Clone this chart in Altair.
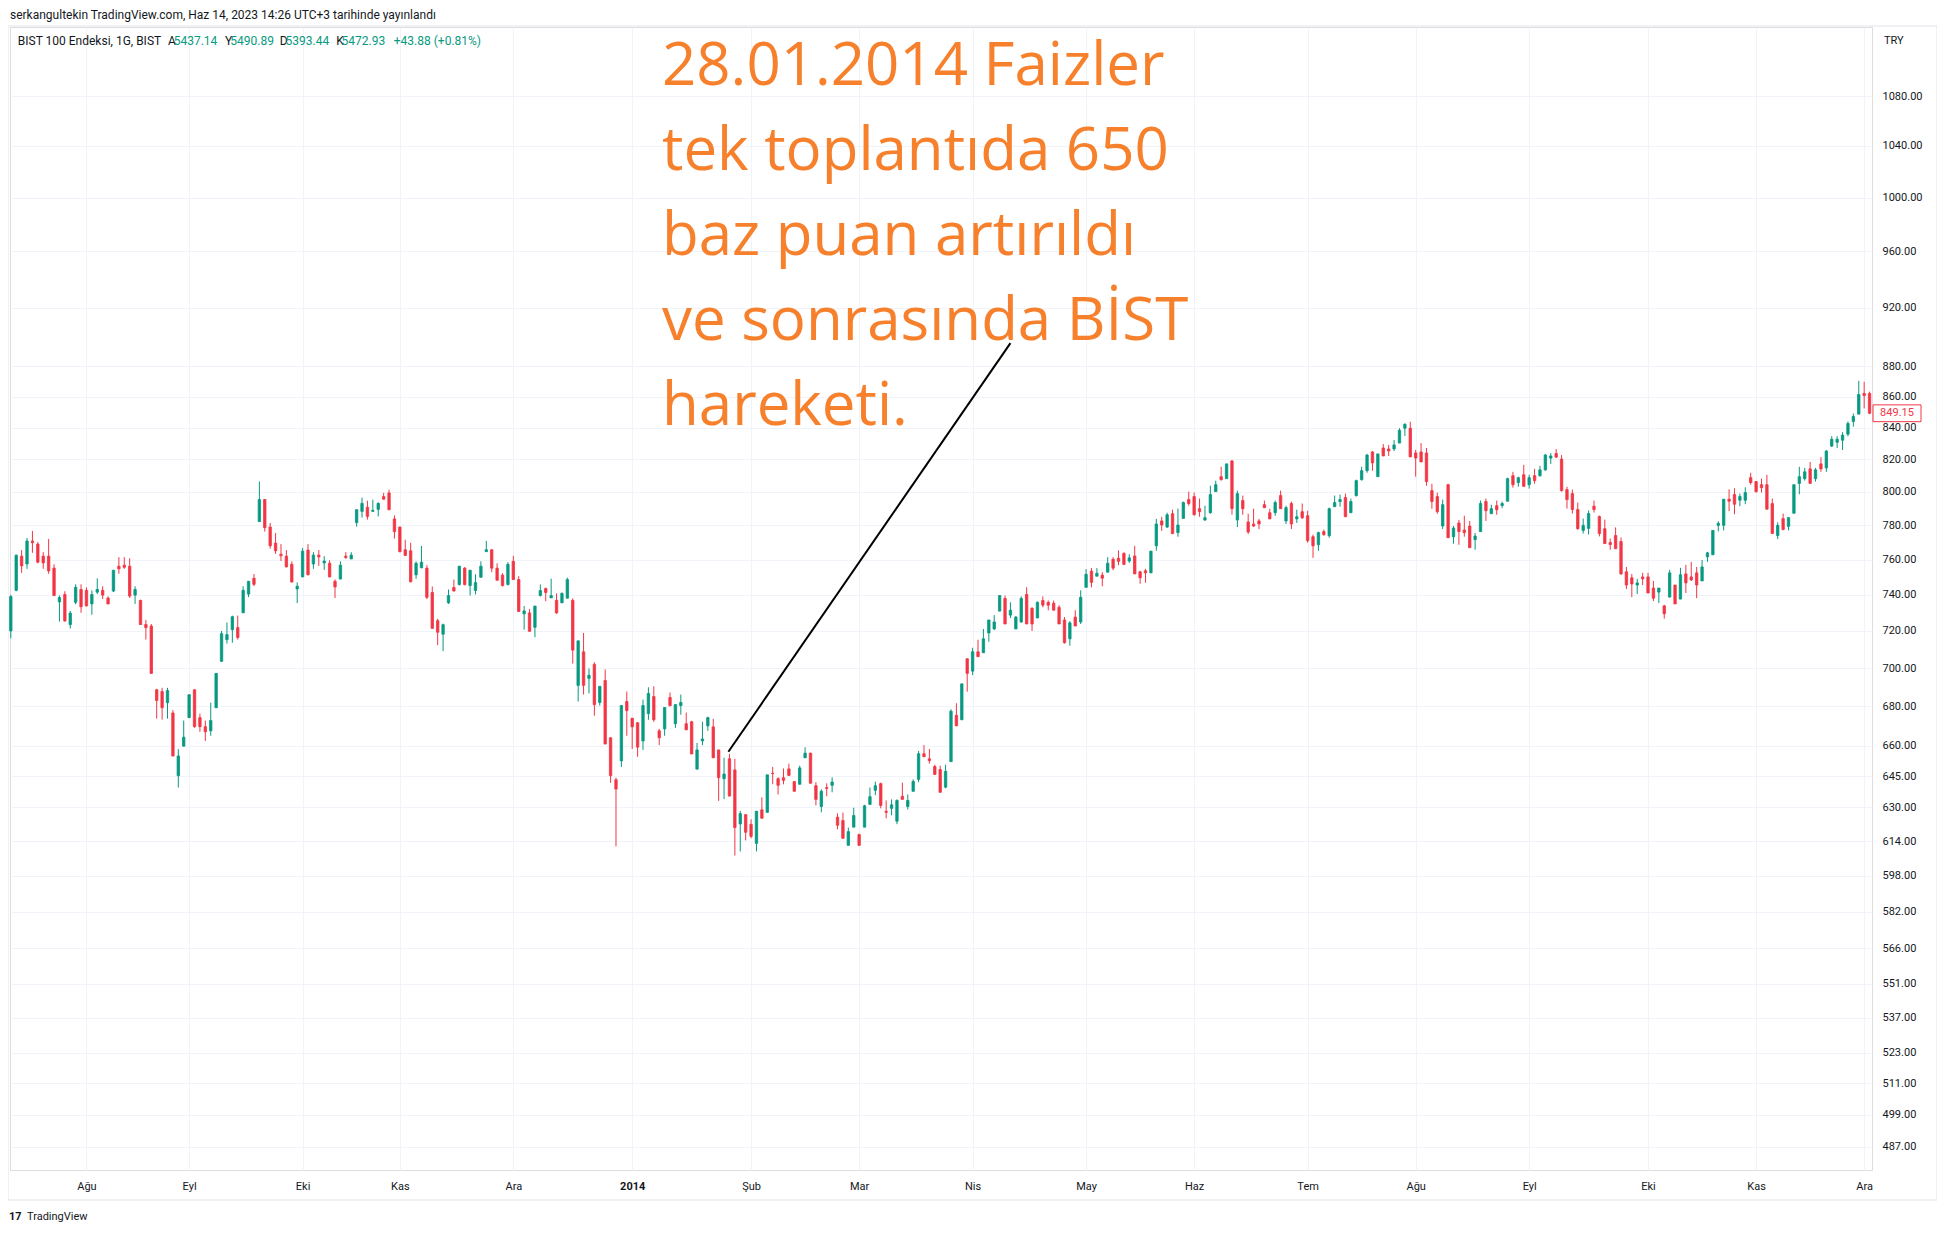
import altair as alt
import pandas as pd

# ---- candle data (daily, BIST 100 / 100, Jul 2013 - Dec 2014) ----
opens = [720,742.5,762,757.5,770.8,769,762,762,755.1,736,740.2,723.5,735.8,743,742.5,734.9,741.5,742.5,738.2,742.1,
         756.2,756.8,756.2,739.8,736.9,723.5,722.7,688.6,687.7,681.9,676.6,645.2,659.8,674.2,688.6,674.2,669.6,667.5,679.3,703.6,
         715.3,720.7,721.8,730,740.4,749.3,782.2,795.4,779,769.6,763.1,762,757.3,743.3,750.1,765.5,757.5,762.6,758.1,757.9,
         747.6,748.9,762,760.4,781.6,788.3,790.7,788.3,789.5,797.2,799.4,783.8,779,765.7,765.1,751.3,755.3,755.1,741.3,725.6,
         718.2,735.5,744.1,745.8,755.1,745.2,742.4,749.9,764.6,765.7,755.1,751.1,745.8,759,748.6,729.4,729.9,722,739.6,743.5,
         738.3,736.9,735.5,738.1,736.9,690.9,708.7,694.6,702,682,693.5,664,643.2,652.5,682.5,673.9,671.6,662.4,676.3,685.1,
         667.5,668.5,684.6,671.1,680.4,671.1,672.1,648.4,662.4,670,669.5,657.9,643.7,653.5,648,622,626.4,621.8,612.9,628.7,
         627.5,646.4,643.7,644.2,648.5,642.3,641,654,656.3,640.3,630.3,639.4,640.5,625.2,623.6,612,620.5,617,620.5,631.3,
         638.1,641.3,628,629.4,623.3,635.2,630.3,637.6,643.4,656,653.5,649.7,648.2,639.6,652.1,675.4,673.1,705,698.4,708.7,
         708.2,718.9,721.1,730.9,738,728.7,721.1,724.9,740.2,732.5,727.1,736.8,735.8,735.3,733,726,715.7,727.6,724.9,744.2,
         753.4,750.5,751.1,752.8,760.2,760.8,763.6,759.2,762.1,753,753.6,752.4,768,782.6,779,786.9,775.7,784.1,795.4,797.2,
         789.9,783.2,787.5,800.2,809.3,808.1,819,783.2,794.8,782,780.8,782.6,792.3,787.5,787.5,797.8,782.6,793,783.8,788.1,
         785.7,773.3,768.6,776.3,773.9,791.1,794.2,796.6,787.5,797.8,807.5,813,824.6,809.3,827.1,826.5,826.5,830.2,839.6,839.6,
         824,824.6,824,800.8,797.2,779.6,804.4,773.3,781.4,777.2,779.6,771.6,776.3,794.2,786.9,791.7,791.8,794.4,809.9,805.7,
         810.5,804.4,809.9,809.9,813.5,820.8,823.7,820.2,801.4,799,789.4,777,778.2,791.4,785.2,778,769.9,774,770.5,753,
         749.6,745.5,750.1,750.1,743.8,741.5,733.8,738.7,745.5,737.6,751.8,750.1,752.4,747.8,761.6,762.8,780,780,795.6,798.4,
         795,795,808.7,806.3,804.4,804.4,793,774,784,779.4,787.2,805.2,808.1,814.1,808.1,817.2,814.7,828.3,830.7,832,
         835.8,843.9,848.6,862,862]
highs = [740,763,765.5,772.6,776.7,770.2,764.3,772,757.3,739.6,742,731,745.9,745.9,744.2,742.5,749.3,744.8,739.1,754,
         761.4,761.4,760.8,744.8,737.2,726,723.8,689.1,689.6,689.6,678.1,658.3,672.7,686.2,688.8,676.3,672.7,681.9,697.4,720,
         724.6,728.4,728.4,744.8,747.8,751.7,806.4,795.6,781.4,775.5,769,765.5,759,747,766.7,769,764.3,765.5,762,759.6,
         748.7,759,764.3,764.3,789.5,796.6,794.7,795.3,793.7,799.4,801.4,785.9,779.2,771.5,769.8,759,767.9,756.8,744.7,726.7,
         724,743,748.6,756.4,755.7,754.1,751.6,759,770.9,765.9,757.9,752.2,758.5,762.2,750.5,733.7,732.1,733.8,745.8,744.1,
         749.1,740.8,741.3,749.7,738,714.8,718.9,699.8,703.1,690.6,699.3,664.2,644.2,680.6,687.7,674.1,671.8,683.5,689.9,690.4,
         668.5,679.6,687.2,681.1,686.1,676.8,672.6,661.4,672.1,674.7,673.6,658,654,655.9,653.5,628.2,626.6,624.2,628.2,634.7,
         645.6,649.5,644.4,648.7,651.1,642.5,650.1,659.2,656.5,642,638.6,641.5,644.4,627,627.4,620.3,629.7,617.5,631.1,639.4,
         642.3,641.8,633.2,633.7,633.7,641.8,636.1,643.4,657.4,660.3,658.4,650.6,650.1,650.6,678.5,681.6,691.7,705,710.9,715.2,
         721.1,726,728.7,739.6,739.6,735.8,728.2,739.1,744.2,733,736.3,739.1,736.8,736.8,734.2,727.6,725.4,731.4,742.5,754.5,
         755.1,755.1,752.8,761.4,761.4,765.3,764.2,763.1,768,753.6,754.7,764.9,783.8,785,787.5,789.3,789.9,794.2,800.2,799.6,
         796,791.7,803.8,806.9,815.4,817.2,819.6,800.8,797.8,786.9,789.9,783.8,794.8,789.9,794.8,800.8,791.7,794.2,789.3,793,
         788.7,774.5,776.3,777.5,790.5,797.8,798.4,799,796,807.5,815.4,823.4,825.2,823.4,829.6,829,832.1,839.6,842.7,843.7,
         825.9,830.2,827.1,805,799.6,795.4,805,779.6,783.2,785.7,782.6,775.5,794.8,796,792.3,794.8,794.2,808.7,812.3,809.3,
         816.6,810.5,814.1,816,823.3,823.9,826.4,822.7,803.2,801.4,793.6,784,788.8,794.8,785.8,783.4,772.3,778.8,772.9,755.8,
         751.8,749,752.4,752.4,747.8,743.8,734.4,754.1,745.5,755.3,757,758.7,755.8,759.8,764.5,777,782.4,795.6,801.6,802.2,
         799,802.8,811.7,806.5,808.1,810.5,796,781.8,787,784.6,804.4,815.4,814.7,818.4,814.7,821.4,825.8,834.5,834.5,837.1,
         843.9,849,870.3,869.7,863.2]
lows = [716,742,752.4,754.7,763.9,757.9,754.7,751.9,739.3,725.1,725,721.3,734.7,730,733.5,728.9,740.4,737.6,734.7,741.5,
        751.9,754.7,738.2,734.9,723.3,715.3,697,673.7,673.2,673.7,654.7,639.4,659.6,674,669.1,667,662.4,665,679.1,703.4,
        713.1,713.6,715.3,729.8,738.7,744.9,782,776.3,766.3,763.3,759.2,755.6,747,735.4,750,751,754.7,756.4,754.1,749.9,
        738.2,748.7,760.4,760.3,779.2,784.6,783.4,788.1,785.3,795.4,789,772.2,764.2,762.2,747.1,749,755.1,737.6,721.2,712.3,
        709.1,734.9,742,745.2,745.2,739.6,740.2,749.8,764.5,752.8,748.1,744.7,745.2,748.5,730.6,720.7,719.7,716.6,739,736.4,
        738.2,729.4,735.4,738,702.4,682.5,686.1,686.7,675.2,680.4,660.7,641.7,611.5,649.5,665,658.4,654.5,657.9,673.1,672.1,
        660.3,665,679.9,669,675.7,667.9,655.8,648.3,660.3,667.5,653.9,633,633.8,635.2,607.3,609.2,614.3,615.3,609.2,624.7,
        627.5,641,636.1,641,645.3,637.6,641,654,641.5,630.8,627.5,635.2,637.1,619.5,615.3,612,620.5,612,620.5,631.3,
        635.7,629.4,624.7,626.1,621.9,633.7,628.9,637.6,642,654.5,651.1,645.8,637.1,639.1,652.1,670,673.1,687.6,696.3,706.1,
        708.2,714.1,720.5,730.9,723.8,727.1,721.1,724.4,723.8,720,727.1,733,731.4,731.4,723.8,713.1,712,722.7,723.8,744.2,
        744.2,750.5,744.8,752.8,753.9,756.8,756.8,758.1,751.8,746.2,746.8,752.4,765.1,776.7,778.4,775.1,773.3,784.1,791.7,785.7,
        785.1,782.6,786.9,800.2,806.9,808.1,786.3,779,786.3,774.9,779,777.8,790.5,783.8,785.7,789.9,780.8,777.8,781.4,783.8,
        769.8,761,765.1,773.9,772.7,791.1,791.1,785.1,787.5,797.2,806.9,811.7,813,809.3,822.1,822.1,825.2,830.2,834.6,821.5,
        809.3,818.4,803.8,789.9,786.9,777.8,772.7,769.2,768.6,773.3,766.9,765.7,776.3,782.6,786.9,786.3,790.2,794.4,802.6,803.2,
        803.4,802,805,809.3,812.9,817.2,820.8,800.2,790,787,777.4,775.2,774.6,787.6,773.5,769.3,765.7,766.3,751.3,743.2,
        738.7,740.4,745.5,741,736.5,735.4,726.7,738.7,734.9,737.6,741,747.8,738.1,747.8,758.7,762.8,776.4,777,788.4,786.6,
        791.4,792.6,804.4,799.6,799.6,789.6,775.2,771.9,777,777,787.2,798.6,806.9,805.2,806.3,812.3,812.3,827.7,827.1,825.8,
        834.5,840.6,848.6,852.3,848.6]
closes = [739,762.5,756.4,770.8,769.8,758.5,758.1,753.5,739.6,738.5,725.5,729.8,744.2,733.3,733.8,740.2,743,739.8,734.9,753.9,
          754.7,755.6,739.3,743,723.5,721.8,697.2,683,679.3,688.2,654.9,654.9,664.3,686,669.6,669.6,667,672.7,697.2,718.5,
          718,727.8,716.4,742.5,747.6,745.9,795.4,778.6,768,765.1,762.2,755.8,747.2,744.8,764.9,751.3,762.6,761.6,759.2,750.1,
          744.4,756.8,761.2,762.6,789.3,793.1,785.3,788.9,793.1,795.6,789.3,776.3,764.6,762.4,747.3,757.9,758.5,738.6,721.4,719.3,
          723.4,739.6,742.1,756.2,745.8,753.9,746.9,756.2,765.7,755.1,748.2,745.2,757.3,748.6,730.7,731,719.8,733.7,742.4,741.3,
          739.6,729.9,740.8,748.6,709.6,714.6,690.9,696.2,680.9,690.4,660.9,645.2,638.7,680.4,677.8,669.5,659.3,680.4,686.7,673.1,
          664,679.4,680.4,680.9,682,668,655.9,657.9,663.4,674.2,654,644.2,646,635.3,620.3,626.9,618.1,616.2,628,624.7,
          645.6,646.2,640.5,642.9,645.3,637.6,649,656.3,641.5,633.7,637.6,639.0,642.1,621.4,615.3,618.4,626,612,630.6,635,
          640.3,630.8,627.5,631.1,633.2,633.7,633.2,642.4,656,654.5,652.6,645.8,637.1,647.3,677.5,670,691.7,697.2,708.7,706.1,
          715.7,726,724.9,739.6,723.8,731.4,727.6,738,723.8,723.8,735.8,734.2,734.2,731.4,723.8,713.6,724.4,722.7,738.6,751.6,
          747,752.2,749.4,757.9,755.1,759,757.3,761,751.8,749.6,752.4,764.9,780.8,780.2,786.3,775.1,780.2,793.6,793,786.3,
          788.1,784.5,798.4,804.4,807.5,817.2,789.9,799,789.9,776.1,779.6,780.8,790.5,783.8,793.6,789.9,790.5,780.8,785.1,784.5,
          771,768,775.7,774.5,789.9,793.6,795.4,785.1,794.2,806.9,813,822.7,817.8,823.4,822.1,825.2,829,838.3,842.1,821.5,
          820.8,818.4,806.3,794.2,788.1,792.3,772.7,778.4,776.3,775.7,766.9,773.7,793,788.7,789.9,789.3,793,808.1,804.4,808.7,
          803.4,808.7,806.9,813.5,822.7,822.1,821.4,800.8,795.4,789.4,778,780,787,789.4,775.2,769.3,768.7,766.3,751.8,745.5,
          746.1,746.7,749,741,738.1,743.8,729.4,752.4,734.9,751.3,746.7,748.4,745.5,755.8,763.9,777,781.2,795.6,794.4,792.6,
          797.2,799.6,805.7,800.2,802.6,789.6,775.2,780,777.6,784.6,804.4,809.3,812.3,805.2,813.5,814.1,825.2,832.6,832.6,835.2,
          842.6,847.1,861.3,860.6,849.15]

month_idx = [14, 33, 54, 72, 93, 115, 137, 157, 178, 199, 219, 240, 260, 281, 303, 323, 343]
month_lbl = ["Ağu", "Eyl", "Eki", "Kas", "Ara", "2014", "Şub", "Mar", "Nis", "May", "Haz",
             "Tem", "Ağu", "Eyl", "Eki", "Kas", "Ara"]
price_ticks = [487, 499, 511, 523, 537, 551, 566, 582, 598, 614, 630, 645, 660, 680, 700, 720,
               740, 760, 780, 800, 820, 840, 860, 880, 920, 960, 1000, 1040, 1080]

trend_x = [132.8, 185.0]
trend_y = [657.0, 895.5]

note_lines = ["28.01.2014 Faizler", "tek toplantıda 650", "baz puan artırıldı",
              "ve sonrasında BİST", "hareketi."]
last_price = 849.15

header_text = "serkangultekin TradingView.com, Haz 14, 2023 14:26 UTC+3 tarihinde yayınlandı"
legend_parts = ["BIST 100 Endeksi, 1G, BIST", "A", "5437.14", "Y", "5490.89", "D", "5393.44",
                "K", "5472.93", "+43.88 (+0.81%)"]

UP, DOWN = "#089981", "#F23645"
INK = "#131722"
W, H = 1862, 1143
FONT = "Roboto"

df = pd.DataFrame({"i": range(len(opens)), "o": opens, "h": highs, "l": lows, "c": closes})
df["dir"] = ["up" if c >= o else "down" for o, c in zip(opens, closes)]

xs = alt.Scale(domain=[-0.15, 344.45], nice=False, zero=False, padding=0)
ys = alt.Scale(type="log", domain=[478.5, 1138], nice=False, zero=False, padding=0)
col = alt.Color("dir:N", scale=alt.Scale(domain=["up", "down"], range=[UP, DOWN]), legend=None)

label_expr = "{}[indexof({}, datum.value)]".format(
    "[" + ",".join("'" + s + "'" for s in month_lbl) + "]",
    "[" + ",".join(str(v) for v in month_idx) + "]")

base = alt.Chart(df)

xaxis = alt.Axis(
    values=month_idx, labelExpr=label_expr, grid=True, gridColor="#f0f3fa",
    ticks=False, domain=False, labelFontSize=11, labelColor=INK, labelFont=FONT,
    labelPadding=10, title=None, labelFlush=False, labelOverlap=False, labelAlign="center",
    labelFontWeight={"condition": {"test": "datum.value == 115", "value": "bold"}, "value": "normal"})
yaxis = alt.Axis(
    orient="right", values=price_ticks, format=".2f", grid=True, gridColor="#f0f3fa",
    ticks=False, domain=False, labelFontSize=11, labelColor=INK, labelFont=FONT,
    labelPadding=10, title=None, labelFlush=False, labelOverlap=False)

wicks = base.mark_rule(strokeWidth=1).encode(
    x=alt.X("i:Q", scale=xs, axis=xaxis),
    y=alt.Y("l:Q", scale=ys, axis=yaxis), y2="h:Q", color=col)
bodies = base.mark_bar(size=2.4, strokeWidth=0.8).encode(
    x=alt.X("i:Q", scale=xs), y=alt.Y("o:Q", scale=ys), y2="c:Q", color=col, stroke=col)

trend = alt.Chart(pd.DataFrame({"i": [trend_x[0]], "i2": [trend_x[1]],
                                "o": [trend_y[0]], "o2": [trend_y[1]]})).mark_rule(
    color="#000000", strokeWidth=2).encode(
    x=alt.X("i:Q", scale=xs), x2="i2:Q", y=alt.Y("o:Q", scale=ys), y2="o2:Q")

layers = [wicks, bodies, trend]

# annotation text (pixel placement)
for k, line in enumerate(note_lines):
    layers.append(alt.Chart(pd.DataFrame({"t": [line]})).mark_text(
        align="left", baseline="alphabetic", font="Open Sans", fontSize=60, color="#F7802C").encode(
        x=alt.value(652), y=alt.value(58 + k * 85), text="t:N"))

# price tag at right
tag_df = pd.DataFrame({"o": [last_price], "t": [f"{last_price:.2f}"]})
layers.append(alt.Chart(tag_df).mark_point(
    shape="M-1,-0.35H1V0.35H-1Z", size=48 * 48, filled=True, fill="white",
    stroke=DOWN, strokeWidth=1, opacity=1).encode(
    x=alt.value(1887), y=alt.Y("o:Q", scale=ys)))
layers.append(alt.Chart(tag_df).mark_text(font=FONT, fontSize=11, color=DOWN).encode(
    x=alt.value(1887), y=alt.Y("o:Q", scale=ys), text="t:N"))

def ptext(txt, x, y, color=INK, size=12, weight="normal"):
    return alt.Chart(pd.DataFrame({"t": [txt]})).mark_text(
        align="left", baseline="middle", font=FONT, fontSize=size, color=color,
        fontWeight=weight).encode(x=alt.value(x), y=alt.value(y), text="t:N")

layers.append(ptext(header_text, 0, -12))
legend_x = [7.8, 158, 163.7, 215, 220.3, 269.7, 275.5, 326.3, 331.6, 383.8]
legend_c = [INK, INK, UP, INK, UP, INK, UP, INK, UP, UP]
for t, x, c in zip(legend_parts, legend_x, legend_c):
    layers.append(ptext(t, x, 14, c))
layers.append(ptext("TRY", 1874, 14, size=11))
layers.append(ptext("17", -1, 1190, size=11, weight="bold"))
layers.append(ptext("TradingView", 17, 1190, size=11))

layers.append(alt.Chart(pd.DataFrame({"a": [0]})).mark_rect(
    fill=None, stroke="#e0e3eb", strokeWidth=1).encode(
    x=alt.value(-2), x2=alt.value(1927), y=alt.value(-1), y2=alt.value(1173)))

chart = alt.layer(*layers).properties(
    width=W, height=H, autosize=alt.AutoSizeParams(type="none"),
    padding={"left": 2, "top": 19, "right": 65, "bottom": 55}
).configure_view(stroke=None).configure(background="white")

chart.save("out.html", embed_options={"renderer": "svg", "actions": False})
